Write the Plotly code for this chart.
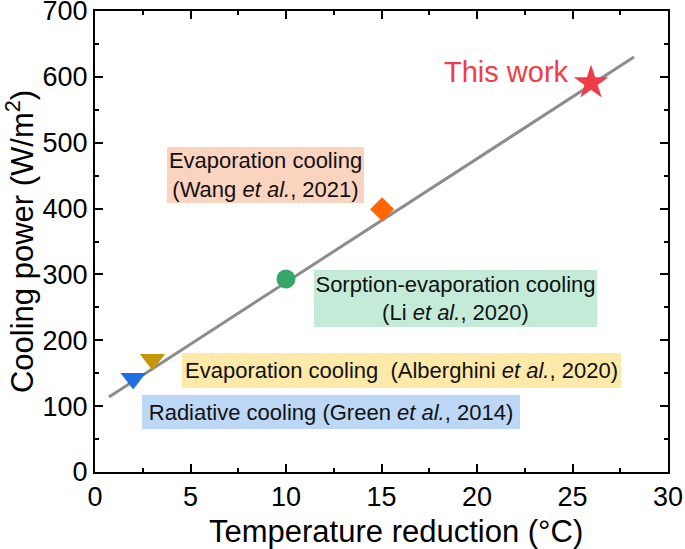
import plotly.graph_objects as go

# Data
names = ["Radiative cooling", "Evaporation cooling (Alberghini)", "Sorption-evaporation cooling",
         "Evaporation cooling (Wang)", "This work"]
temp_reduction = [2.0, 3.01, 10.0, 15.03, 25.97]
cooling_power = [142, 171, 293, 399, 591]
symbols = ["triangle-down", "triangle-down", "circle", "diamond", "star"]
colors = ["#1f6fe0", "#c8960a", "#35a866", "#ff6600", "#f03c46"]
sizes = [22, 22, 19, 18.5, 26]

fit_x = [0.73, 28.22]
fit_y = [114, 630]

labels = [
    "Radiative cooling (Green <i>et al.</i>, 2014)",
    "Evaporation cooling  (Alberghini <i>et al.</i>, 2020)",
    "Sorption-evaporation cooling<br>(Li <i>et al.</i>, 2020)",
    "Evaporation cooling<br>(Wang <i>et al.</i>, 2021)",
]
label_x = [12.36, 16.05, 18.87, 8.95]
label_y = [91, 154, 263, 451]
label_bg = ["#bdd7f6", "#fde9a8", "#c4ebd8", "#fbd4c0"]
label_w = [378, 439, 283, 197]
label_h = [34, 35, 57, 56]

x_ticks = [0, 5, 10, 15, 20, 25, 30]
y_ticks = [0, 100, 200, 300, 400, 500, 600, 700]

x_title = "Temperature reduction (°C)"
y_title = "Cooling power (W/m<sup>2</sup>)"

font_family = "Liberation Sans, Arial, sans-serif"

fig = go.Figure()
fig.add_trace(go.Scatter(x=fit_x, y=fit_y, mode="lines",
                         line=dict(color="#8c8c8c", width=3), showlegend=False, hoverinfo="skip"))
for i in range(len(names)):
    fig.add_trace(go.Scatter(x=[temp_reduction[i]], y=[cooling_power[i]], mode="markers",
                             name=names[i],
                             marker=dict(symbol=symbols[i], color=colors[i], size=sizes[i],
                                         line=dict(width=0)),
                             showlegend=False))

for t, xx, yy, bg, w, h in zip(labels, label_x, label_y, label_bg, label_w, label_h):
    fig.add_annotation(x=xx, y=yy, xref="x", yref="y", text=t, showarrow=False,
                       bgcolor=bg, width=w, height=h, borderpad=0, borderwidth=0,
                       align="center", valign="middle",
                       font=dict(family=font_family, size=22, color="#111111"))

fig.add_annotation(x=21.57, y=607, xref="x", yref="y", text="This work", showarrow=False,
                   font=dict(family=font_family, size=29, color="#f03c46"))

# x-axis title (slightly right of centre, as in the reference)
fig.add_annotation(x=0.5253, y=-0.128, xref="paper", yref="paper", text=x_title,
                   showarrow=False, xanchor="center", yanchor="middle",
                   font=dict(family=font_family, size=31, color="black"))

axis_common = dict(showline=True, linecolor="black", linewidth=2, mirror="ticks",
                   ticks="inside", ticklen=8, tickwidth=2, tickcolor="black",
                   showgrid=False, zeroline=False, automargin=False,
                   ticklabeloverflow="allow",
                   tickfont=dict(family=font_family, size=27, color="black"))

fig.update_xaxes(range=[0, 30], tickvals=x_ticks,
                 minor=dict(dtick=2.5, ticks="inside", ticklen=4, tickwidth=2, tickcolor="black"),
                 **axis_common)
fig.update_yaxes(range=[0, 700], tickvals=y_ticks,
                 minor=dict(dtick=50, ticks="inside", ticklen=4, tickwidth=2, tickcolor="black"),
                 title=dict(text=y_title, standoff=2,
                            font=dict(family=font_family, size=31, color="black")),
                 **axis_common)

fig.update_layout(width=685, height=549, plot_bgcolor="white", paper_bgcolor="white",
                  margin=dict(l=95, r=17, t=11, b=77), showlegend=False)

fig.write_html("out.html", config={"displayModeBar": False},
               post_script="document.body.style.margin='0';document.body.style.padding='0';")
